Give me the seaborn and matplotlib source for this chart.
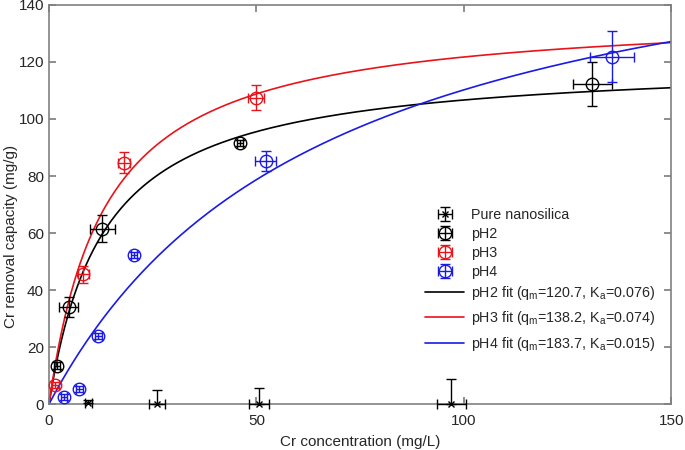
import numpy as np
import matplotlib
matplotlib.use("Agg")
import matplotlib.pyplot as plt
import seaborn as sns

# Pure nanosilica (only the upper error bar is visible above the axis)
pure_x = [9.5, 26.0, 50.6, 97.0]
pure_y = [0.5, 0.0, 0.0, 0.0]
pure_xerr = [0.8, 2.0, 2.4, 3.5]
pure_yerr = [0.8, 5.0, 5.8, 8.8]

# pH2
ph2_x = [1.9, 4.8, 12.8, 46.0, 131.0]
ph2_y = [13.4, 34.0, 61.5, 91.5, 112.3]
ph2_xerr = [0.8, 2.3, 3.0, 0.8, 4.6]
ph2_yerr = [1.2, 3.5, 4.8, 1.0, 7.7]

# pH3
ph3_x = [1.5, 8.3, 18.1, 49.9]
ph3_y = [6.6, 45.6, 84.6, 107.5]
ph3_xerr = [0.8, 1.4, 1.5, 2.0]
ph3_yerr = [1.0, 3.0, 3.7, 4.3]

# pH4
ph4_x = [3.6, 7.3, 11.9, 20.5, 52.2, 135.8]
ph4_y = [2.5, 5.2, 23.8, 52.3, 85.4, 121.8]
ph4_xerr = [0.8, 0.8, 0.8, 0.8, 2.5, 5.3]
ph4_yerr = [1.0, 1.0, 1.0, 1.0, 3.5, 9.0]

# Langmuir fit parameters (from legend)
fit_names = ["pH2", "pH3", "pH4"]
fit_qm = [120.7, 138.2, 183.7]
fit_ka = [0.076, 0.074, 0.015]
fit_ka_txt = ["0.076", "0.074", "0.015"]
colors = ["black", "#e8141b", "#1a1ae6"]

sns.set_theme(style="ticks")
plt.rcParams["font.family"] = ["Liberation Sans", "DejaVu Sans"]
plt.rcParams["mathtext.fontset"] = "custom"
plt.rcParams["mathtext.rm"] = "Liberation Sans"
plt.rcParams["mathtext.it"] = "Liberation Sans"

fig = plt.figure(figsize=(6.85, 4.5), dpi=100)
ax = fig.add_axes([0.0715, 0.102, 0.9085, 0.887])

# Langmuir curves
c = np.linspace(0, 150, 400)
for name, qm, ka, kt, col in zip(fit_names, fit_qm, fit_ka, fit_ka_txt, colors):
    q = qm * ka * c / (1 + ka * c)
    lab = f"{name} fit (q$_{{\\mathrm{{m}}}}$={qm}, K$_{{\\mathrm{{a}}}}$={kt})"
    sns.lineplot(x=c, y=q, color=col, lw=1.2, ax=ax, label=lab, legend=False)

ebkw = dict(ls="none", capsize=3.5, elinewidth=1, capthick=1, clip_on=False, zorder=3)
pure_lo = [0.0 for _ in pure_yerr]
ax.errorbar(pure_x, pure_y, xerr=pure_xerr, yerr=[pure_lo, pure_yerr], fmt="x",
            color="black", ms=5, label="Pure nanosilica", **ebkw)
ax.errorbar(ph2_x, ph2_y, xerr=ph2_xerr, yerr=ph2_yerr, fmt="o", color="black",
            mfc="none", ms=9, label="pH2", **ebkw)
ax.errorbar(ph3_x, ph3_y, xerr=ph3_xerr, yerr=ph3_yerr, fmt="o", color=colors[1],
            mfc="none", ms=9, label="pH3", **ebkw)
ax.errorbar(ph4_x, ph4_y, xerr=ph4_xerr, yerr=ph4_yerr, fmt="o", color=colors[2],
            mfc="none", ms=9, label="pH4", **ebkw)

ax.set_xlim(0, 150)
ax.set_ylim(0, 140)
ax.set_xticks([0, 50, 100, 150])
ax.set_yticks(np.arange(0, 141, 20))
ax.set_xlabel("Cr concentration (mg/L)", fontsize=11, labelpad=5)
ax.set_ylabel("Cr removal capacity (mg/g)", fontsize=11)
ax.yaxis.set_label_coords(-0.050, 0.42)
ax.tick_params(direction="in", length=5, labelsize=11, top=True, right=True,
               color="#808080")
ax.tick_params(axis="x", pad=7)
for s in ax.spines.values():
    s.set_color("#808080")
    s.set_linewidth(1.2)

handles, labels = ax.get_legend_handles_labels()
line_h = [h for h, l in zip(handles, labels) if "fit" in l]
line_l = [l for l in labels if "fit" in l]
eb_h = [h for h, l in zip(handles, labels) if "fit" not in l]
eb_l = [l for l in labels if "fit" not in l]

leg1 = ax.legend(eb_h, eb_l, loc="upper left", bbox_to_anchor=(0.605, 0.492),
                 frameon=False, fontsize=10.3, handlelength=2.7, handletextpad=0.5,
                 labelspacing=0.36, borderpad=0, borderaxespad=0)
ax.add_artist(leg1)
ax.legend(line_h, line_l, loc="upper left", bbox_to_anchor=(0.605, 0.302),
          frameon=False, fontsize=10.3, handlelength=2.7, handletextpad=0.5,
          labelspacing=0.55, borderpad=0, borderaxespad=0)

fig.savefig("out.png", dpi=100)
